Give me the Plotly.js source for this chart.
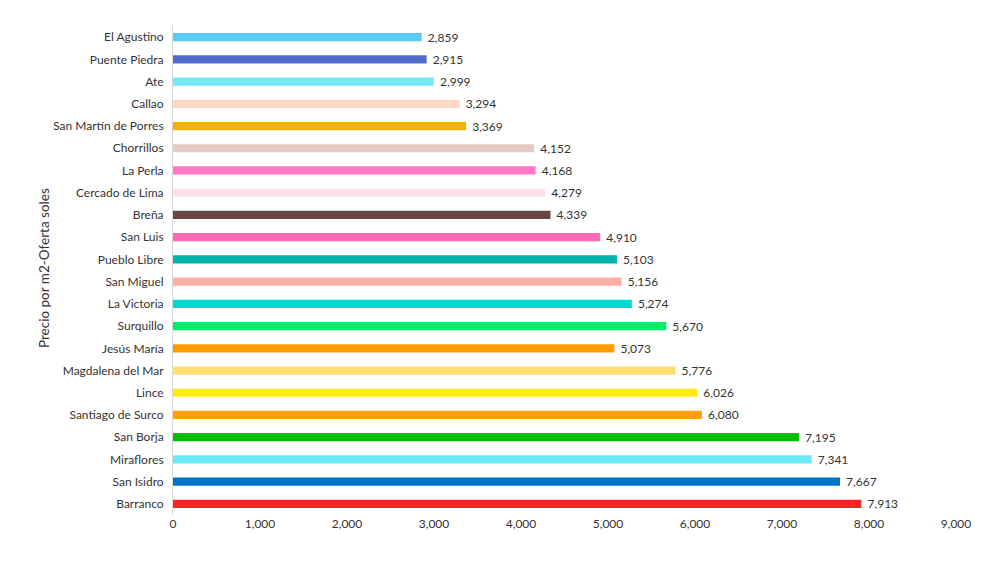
<!DOCTYPE html>
<html><head><meta charset="utf-8">
<script src="https://cdn.plot.ly/plotly-3.0.1.min.js"></script>
<style>html,body{margin:0;padding:0;background:#fff;}#chart{width:1000px;height:562px;}</style>
</head><body><div id="chart"></div>
<script>
const districts = ["El Agustino","Puente Piedra","Ate","Callao","San Martín de Porres","Chorrillos","La Perla","Cercado de Lima","Breña","San Luis","Pueblo Libre","San Miguel","La Victoria","Surquillo","Jesús María","Magdalena del Mar","Lince","Santiago de Surco","San Borja","Miraflores","San Isidro","Barranco"];
const prices = [2859,2915,2999,3294,3369,4152,4168,4279,4339,4910,5103,5156,5274,5670,5073,5776,6026,6080,7195,7341,7667,7913];
const barColors = ["#5BCBF3","#4F6AC9","#76E9F9","#FFD8C6","#F3B301","#E5C9C4","#FF79C4","#FDDFEE","#6A4744","#FF68B2","#00B2A9","#FFAEA6","#00D9D2","#01EE6C","#FF9C00","#FFDF74","#FFE914","#FF9F00","#00BF00","#6EE9F8","#0072C8","#FF2222"];
const xTicks = [0,1000,2000,3000,4000,5000,6000,7000,8000,9000];
const yTitle = "Precio por m2-Oferta soles";

const trace = {
  type: "bar", orientation: "h",
  y: districts, x: prices,
  marker: {color: barColors},
  text: prices.map(v => "\u00A0" + v.toLocaleString("en-US")),
  textposition: "outside",
  constraintext: "none",
  textfont: {family: "Lato, 'Open Sans', sans-serif", size: 12, color: "#333"},
  cliponaxis: false,
  hoverinfo: "none"
};
const layout = {
  width: 1000, height: 562,
  margin: {l: 173, r: 44, t: 26, b: 47},
  paper_bgcolor: "#fff", plot_bgcolor: "#fff",
  showlegend: false,
  bargap: 0.63,
  font: {family: "Lato, 'Open Sans', sans-serif", size: 12, color: "#333"},
  xaxis: {range: [0, 9000], tickvals: xTicks, ticktext: xTicks.map(v => v.toLocaleString("en-US")),
    showgrid: false, zeroline: false, showline: false, ticks: "", ticklen: 0,
    tickfont: {size: 12, color: "#333"}},
  yaxis: {autorange: "reversed", showgrid: false, zeroline: false, showline: true, linecolor: "#d9d9d9", linewidth: 1,
    ticks: "", ticklabelstandoff: 6, tickfont: {size: 12, color: "#333"}},
  annotations: [{
    text: yTitle, textangle: -90, showarrow: false,
    xref: "paper", yref: "paper", x: (44 - 173) / 783, y: (562 - 47 - 268) / 489,
    xanchor: "center", yanchor: "middle",
    font: {size: 13.5, color: "#333"}
  }]
};
Plotly.newPlot("chart", [trace], layout, {displayModeBar: false, staticPlot: true});
</script></body></html>
